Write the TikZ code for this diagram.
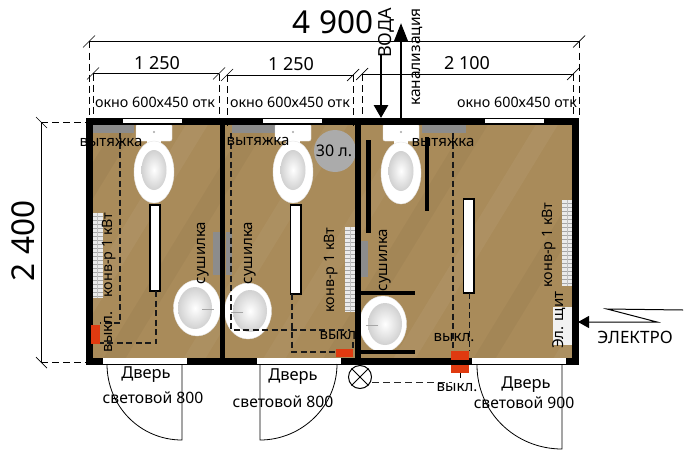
\documentclass[tikz,border=0pt]{standalone}
\usepackage{fontspec}
\setmainfont{Noto Sans}
\usetikzlibrary{arrows.meta}
\definecolor{floorc}{HTML}{A98B5A}
\definecolor{hood}{HTML}{8C8C8C}
\definecolor{redc}{HTML}{E03A10}
\newcommand{\fsz}[1]{\fontsize{#1}{#1}\selectfont}
\tikzset{
  dim/.style={line width=0.7pt,black},
  ext/.style={line width=0.7pt,black,dash pattern=on 7pt off 4pt},
  wire/.style={line width=1.5pt,black!90,dash pattern=on 6pt off 3.5pt},
  wall/.style={fill=black,draw=none},
  hoodbox/.style={fill=hood,draw=none},
  redbox/.style={fill=redc,draw=none},
  win/.style={fill=white,draw=none},
  leaf/.style={line width=0.8pt,black},
  lab/.style={inner sep=0pt,text=black,font=\fsz{14.3}},
  rlab/.style={lab,rotate=90},
  dimlab/.style={inner sep=0pt,text=black,font=\fsz{18}},
  biglab/.style={inner sep=0pt,text=black,font=\fsz{31.5}},
}
\newcommand{\toilet}[2]{% cx, cy of bowl
  \fill[white,draw=black!10,rounded corners=2pt] (#1-18,124) rectangle (#1+18,141);
  \fill[black!35] (#1,132) circle (1.2);
  \fill[white] (#1-7,140) rectangle (#1+7,146);
  \fill[white,draw=black!10] (#1,#2) ellipse (20 and 31);
  \shade[inner color=white,outer color=black!18] (#1,#2-2) ellipse (12.5 and 20);
}
\newcommand{\basin}[3]{% cx, cy, dir
  \fill[white,draw=black!10] (#1,#2) ellipse (23.5 and 28);
  \shade[inner color=white,outer color=black!18] (#1+#3*-2,#2) ellipse (17 and 21);
  \draw[black!35,line width=1pt] (#1+#3*5,#2+1) -- (#1+#3*17,#2+1);
}
\newcommand{\radiator}[3]{% x, y0, y1
  \fill[black!8] (#1,#2) rectangle (#1+11,#3);
  \foreach \yy in {#2,...,#3}{\pgfmathparse{int(mod(\yy-#2,4))}\ifnum\pgfmathresult=3 \draw[black!35,line width=0.8pt] (#1,\yy) -- (#1+11,\yy);\fi}
  \draw[black!25,line width=0.6pt] (#1+5.5,#2) -- (#1+5.5,#3);
}
\begin{document}
\begin{tikzpicture}[x=1pt,y=-1pt]
\useasboundingbox (0,0) rectangle (684,452);
% floor
\fill[floorc] (86,118) rectangle (579,364);
\begin{scope}
\clip (86,118) rectangle (579,364);
\foreach \a/\o/\c in {60/0.05/white,120/0.04/black,190/0.05/white,250/0.035/black,330/0.045/white,410/0.04/white,470/0.035/black,540/0.05/white,620/0.035/black,700/0.045/white,780/0.03/black,850/0.04/white}
  \fill[\c,opacity=\o] (\a,118) -- (\a+22,118) -- (\a-128,364) -- (\a-150,364) -- cycle;
\end{scope}
% hoods
\fill[hoodbox] (89,124) rectangle (134,133);
\fill[hoodbox] (232,124) rectangle (278,133);
\fill[hoodbox] (422,124) rectangle (466,133);
% tank circle
\fill[black!33] (335,151) circle (21);
% driers
\fill[hoodbox] (213,232) rectangle (221,275);
\fill[hoodbox] (226,232) rectangle (232,275);
\fill[hoodbox] (359,241) rectangle (368,277);
% fixtures
\toilet{154}{172}
\toilet{293}{172}
\toilet{401}{173}
\basin{197}{308}{1}
\basin{248}{311}{-1}
\basin{383}{324}{-1}
% radiators
\radiator{92}{213}{298}
\radiator{345}{227}{312}
\radiator{562}{200}{286}
% el panel
\fill[black!5] (553,307) rectangle (574,345);
% interior partitions
\fill[white,draw=black,line width=1.2pt] (150,205) rectangle (160,291);
\fill[white,draw=black,line width=1.2pt] (290.5,205) rectangle (301,294);
\fill[white,draw=black,line width=1.2pt] (463.5,199) rectangle (474,293);
\fill[wall] (366,140) rectangle (371,233);
\fill[wall] (425,137) rectangle (429,211);
\fill[wall] (361,291) rectangle (415,295);
\fill[wall] (361,350) rectangle (415,354);
% walls
\fill[wall] (86,118) rectangle (579,124.5);
\fill[wall] (86,118) rectangle (93,365);
\fill[wall] (572,118) rectangle (579,365);
\fill[wall] (220,118) rectangle (225,365);
\fill[wall] (355,118) rectangle (361,365);
\fill[wall] (86,357.5) rectangle (579,365);
% windows
\fill[win] (123,119) rectangle (182,123);
\fill[win] (263,119) rectangle (322,123);
\fill[win] (485,119) rectangle (544,123);
% doors
\fill[win] (103,358) rectangle (187,364);
\fill[win] (257,358) rectangle (341,364);
\fill[win] (472,358) rectangle (566,364);
% switch boxes
\fill[redbox] (91,325) rectangle (100,344);
\fill[redbox] (336,349) rectangle (353,357);
\fill[redbox] (451,351) rectangle (469,373);
\fill[wall] (451,360) rectangle (469,365);
% wires
\draw[wire] (120,133) -- (120,323) -- (100,323);
\draw[wire] (156,291) -- (156,343) -- (100,343);
\draw[wire] (231,133) -- (231,330) -- (350,330);
\draw[wire] (292,294) -- (292,352) -- (336,352);
\draw[wire] (353,342) -- (353,350);
\draw[wire] (453,133) -- (453,351);
\draw[wire] (469.5,293) -- (469.5,351);
\draw[line width=1pt] (460,373) -- (460,378);
% lamp
\node[circle,draw=black,line width=1pt,fill=white,minimum size=23pt,inner sep=0pt] (lamp) at (360,377) {};
\draw[line width=0.8pt] (lamp.north west) -- (lamp.south east) (lamp.north east) -- (lamp.south west);
\coordinate (lampend) at (452,382);
\draw[line width=1pt,black!85,dash pattern=on 7pt off 4pt] (lamp.east |- lampend) -- (lampend);
% door leaves
\draw[leaf] (107,364) .. controls (107,406) and (140,440) .. (182,440) -- (182,364);
\draw[leaf] (337,364) .. controls (337,406) and (302,440) .. (260,440) -- (260,364);
\draw[leaf] (477,365) .. controls (477,412) and (515,449) .. (562,449) -- (562,365);
% dimensions
\draw[dim] (89,41.5) -- (579,41.5);
\draw[dim] (93,73.5) -- (219,73.5);
\draw[dim] (227,75) -- (353,75);
\draw[dim] (362,74) -- (573,74);
\foreach \x/\y in {89/41.5,93/73.5,219/73.5,227/75,353/75,362/74,573/74,579/41.5}
  \draw[dim] (\x-6,\y+6) -- (\x+6,\y-6);
\draw[ext] (89,41.5) -- (89,118);
\draw[ext] (93,73.5) -- (93,118);
\draw[ext] (219,73.5) -- (219,128);
\draw[ext] (227,75) -- (227,128);
\draw[ext] (353,75) -- (353,128);
\draw[ext] (362,74) -- (362,128);
\draw[ext] (573,74) -- (573,118);
\draw[ext] (579,41.5) -- (579,118);
\draw[dim] (41,122) -- (41,362);
\draw[dim] (36,117) -- (47,128);
\draw[dim] (36,357) -- (47,368);
\draw[ext] (41,122) -- (86,122);
\draw[ext] (41,362.5) -- (86,362.5);
% arrows
\coordinate (wtop) at (381,55);
\coordinate (wbot) at (381,118);
\coordinate (stop) at (401,23);
\coordinate (sbot) at (401,118);
\draw[line width=2.8pt,-{Triangle[length=13pt,width=14pt]}] (wtop) -- (wbot);
\draw[line width=2.8pt,-{Triangle[length=19pt,width=14pt]}] (sbot) -- (stop);
\coordinate (e0) at (683,310);
\coordinate (e1) at (607,309);
\coordinate (e2) at (657,322);
\coordinate (e3) at (578,322);
\draw[line width=1pt,-{Triangle[length=11pt,width=12pt]}] (e0) -- (e1) -- (e2) -- (e3);
% labels
\node[biglab] (t4900) at (333,22) {4 900};
\node[biglab,rotate=90] (t2400) at (23,241) {2 400};
\node[dimlab] (d1) at (157,63) {1 250};
\node[dimlab] (d2) at (291,64) {1 250};
\node[dimlab] (d3) at (467,63) {2 100};
\node[lab] (w1) at (155,102) {окно 600х450 отк};
\node[lab] (w2) at (290,102) {окно 600х450 отк};
\node[lab] (w3) at (517,102) {окно 600х450 отк};
\node[rlab,font=\fsz{18}] (voda) at (386,33) {ВОДА};
\node[rlab,font=\fsz{15.5}] (kan) at (417,57) {канализация};
\node[lab,font=\fsz{15}] (v1) at (111,142) {вытяжка};
\node[lab,font=\fsz{15}] (v2) at (258,141) {вытяжка};
\node[lab,font=\fsz{15}] (v3) at (443,142) {вытяжка};
\node[lab,font=\fsz{16}] (vol) at (334,151) {30 л.};
\node[rlab] (k1) at (109,255) {конв-р 1 кВт};
\node[rlab] (k2) at (331,270) {конв-р 1 кВт};
\node[rlab] (k3) at (549,245) {конв-р 1 кВт};
\node[rlab,font=\fsz{15}] (s1) at (203,253) {сушилка};
\node[rlab,font=\fsz{15}] (s2) at (250,253) {сушилка};
\node[rlab,font=\fsz{15}] (s3) at (385,260) {сушилка};
\node[rlab,font=\fsz{15}] (sw1) at (109,332) {выкл.};
\node[lab,font=\fsz{15}] (sw2) at (340,336) {выкл.};
\node[lab,font=\fsz{15}] (sw3) at (454,338) {выкл.};
\node[lab,font=\fsz{15}] (sw4) at (457,388) {выкл.};
\node[rlab,font=\fsz{15}] (panel) at (559,320) {Эл. щит};
\node[lab,font=\fsz{17}] (el) at (635,337) {ЭЛЕКТРО};
\node[lab,font=\fsz{16.5}] (dd1) at (146,375) {Дверь};
\node[lab,font=\fsz{16.5}] (dd2) at (293,377) {Дверь};
\node[lab,font=\fsz{16.5}] (dd3) at (526,385) {Дверь};
\node[lab,font=\fsz{15.7}] (l1) at (153,398) {световой 800};
\node[lab,font=\fsz{15.7}] (l2) at (283,402) {световой 800};
\node[lab,font=\fsz{15.7}] (l3) at (524,403) {световой 900};
\end{tikzpicture}
\end{document}
